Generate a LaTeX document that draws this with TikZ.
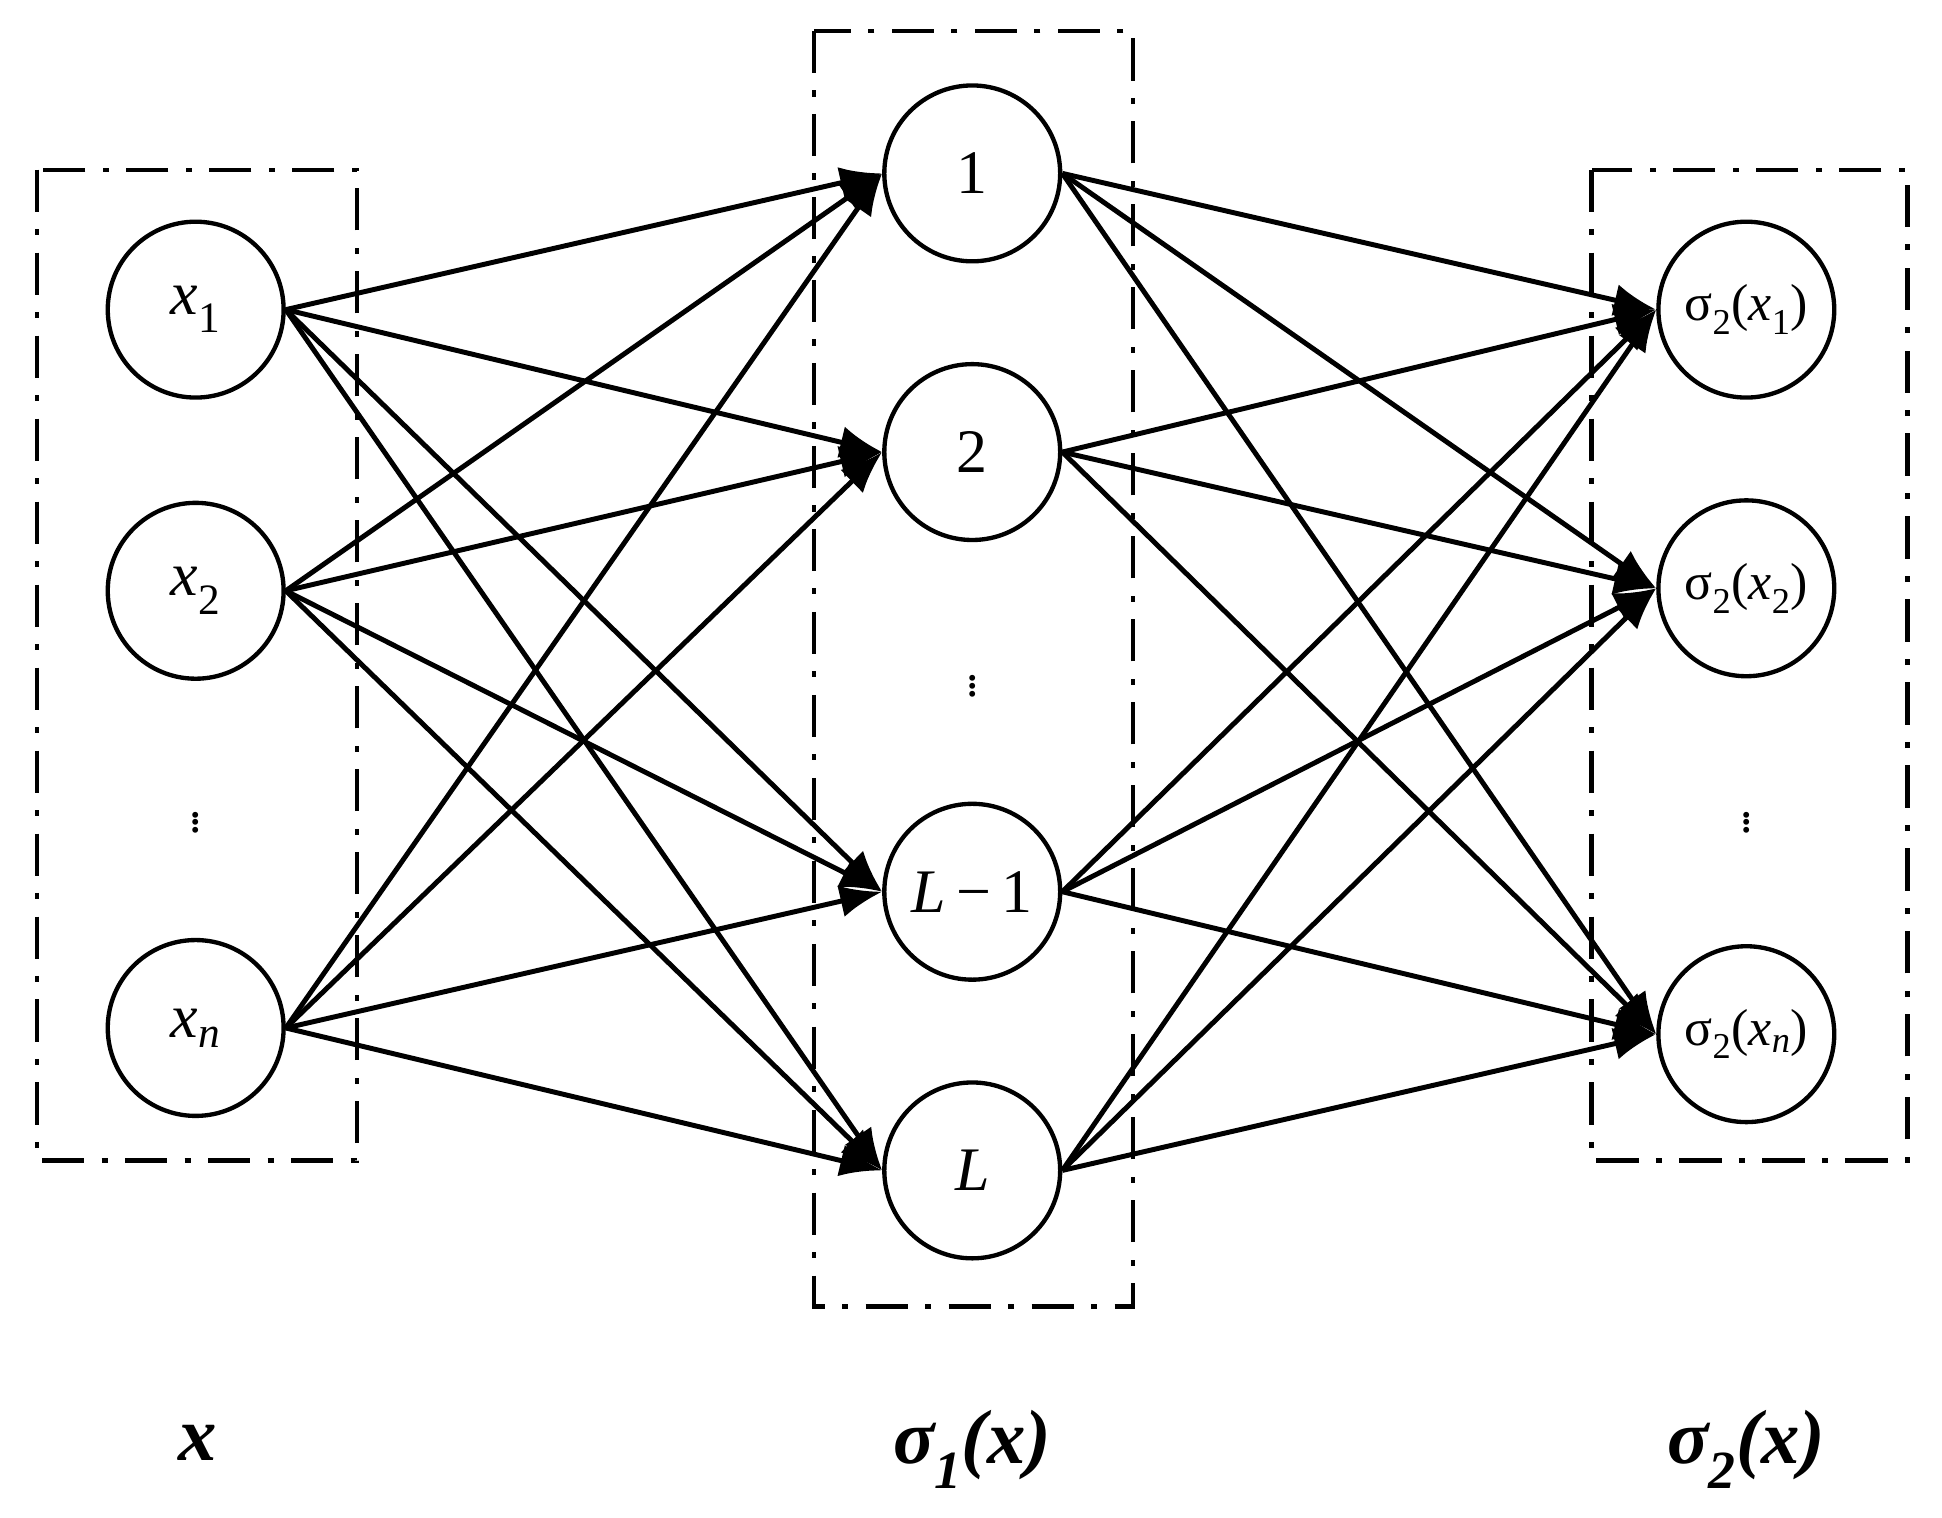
\documentclass[tikz,border=0pt]{standalone}
\usepackage{fontspec}
\setmainfont{Liberation Serif}
\usetikzlibrary{arrows.meta}
\newcommand{\myvd}{\shortstack{.\\[-14pt].\\[-14pt].}}
\begin{document}
\begin{tikzpicture}[x=1pt,y=-1pt,
  neuron/.style={circle,draw,line width=3.5pt,minimum size=142pt,inner sep=0pt,font=\fontsize{50}{52}\selectfont},
  outn/.style={neuron,font=\fontsize{42}{44}\selectfont},
  edge/.style={line width=4pt,-{Latex[length=34pt,width=26pt]}},
  box/.style={draw,line width=3.5pt,dash pattern=on 34pt off 14pt on 5pt off 14pt},
  lab/.style={font=\fontsize{62}{64}\selectfont\bfseries\itshape},
  vdots/.style={font=\fontsize{40}{42}\selectfont,inner sep=0pt}]
\useasboundingbox (0,0) rectangle (1568,1225);
\draw[box] (30,137) rectangle (288,937);
\draw[box] (657,25) rectangle (915,1055);
\draw[box] (1285,137) rectangle (1540,937);
\node[neuron] (i1) at (158,250) {\textit{x}\textsubscript{1}};
\node[neuron] (i2) at (158,477) {\textit{x}\textsubscript{2}};
\node[neuron] (in) at (158,830) {\textit{x}\textsubscript{\textit{n}}};
\node[vdots] (id) at (158,660) {\myvd};
\node[neuron] (h1) at (785,140) {1};
\node[neuron] (h2) at (785,365) {2};
\node[vdots] (hd) at (785,550) {\myvd};
\node[neuron] (h3) at (785,720) {\textit{L}\,−\,1};
\node[neuron] (h4) at (785,945) {\textit{L}};
\node[outn] (o1) at (1410,250) {σ\textsubscript{2}(\textit{x}\textsubscript{1})};
\node[outn] (o2) at (1410,475) {σ\textsubscript{2}(\textit{x}\textsubscript{2})};
\node[outn] (on) at (1410,835) {σ\textsubscript{2}(\textit{x}\textsubscript{\textit{n}})};
\node[vdots] (od) at (1410,660) {\myvd};
\foreach \a in {i1,i2,in}{\foreach \b in {h1,h2,h3,h4}{\draw[edge] (\a.east) -- (\b.west);}}
\foreach \a in {h1,h2,h3,h4}{\foreach \b in {o1,o2,on}{\draw[edge] (\a.east) -- (\b.west);}}
\node[lab] (l1) at (160,1165) {x};
\node[lab] (l2) at (785,1170) {σ\textsubscript{1}(x)};
\node[lab] (l3) at (1410,1170) {σ\textsubscript{2}(x)};
\end{tikzpicture}
\end{document}
